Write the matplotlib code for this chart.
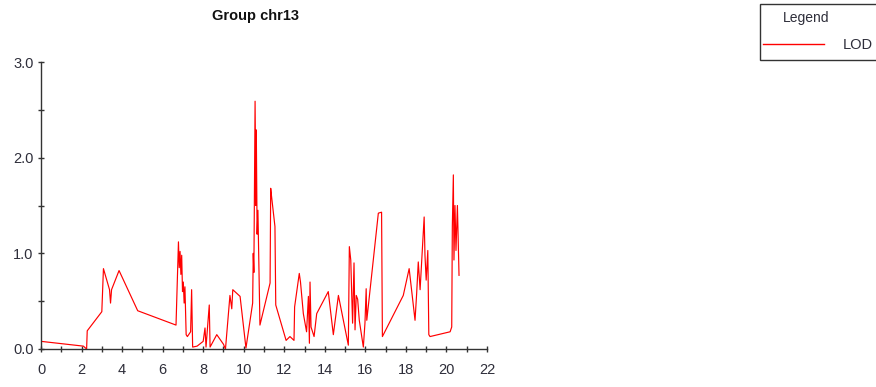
#!/usr/bin/env python
# -*- coding: utf-8 -*-
"""LOD profile for linkage group chr13"""

import matplotlib as mpl
mpl.use("Agg")
import matplotlib.pyplot as plt
from matplotlib.lines import Line2D
from matplotlib.patches import Rectangle
from matplotlib.ticker import MultipleLocator, FormatStrFormatter

# map position (cM) and LOD score along the group
pos = [0.00, 2.09, 2.25, 2.28, 3.00, 3.08, 3.38, 3.43, 3.48, 3.85,
       4.77, 6.66, 6.78, 6.82, 6.86, 6.90, 6.94, 6.98, 7.02, 7.06,
       7.10, 7.16, 7.22, 7.38, 7.43, 7.48, 7.70, 8.00, 8.09, 8.14,
       8.30, 8.34, 8.67, 9.00, 9.10, 9.32, 9.41, 9.46, 9.82, 10.11,
       10.44, 10.47, 10.50, 10.56, 10.60, 10.62, 10.66, 10.70, 10.80, 11.30,
       11.33, 11.37, 11.54, 11.58, 12.09, 12.28, 12.48, 12.51, 12.74, 12.80,
       12.94, 13.10, 13.19, 13.24, 13.27, 13.32, 13.47, 13.60, 14.17, 14.42,
       14.67, 15.16, 15.21, 15.28, 15.33, 15.37, 15.44, 15.49, 15.55, 15.62,
       15.70, 15.90, 15.98, 16.04, 16.07, 16.64, 16.80, 16.84, 17.87, 18.16,
       18.45, 18.53, 18.61, 18.70, 18.90, 18.94, 19.00, 19.08, 19.13, 19.19,
       20.18, 20.26, 20.29, 20.34, 20.37, 20.42, 20.47, 20.54, 20.62]
lod = [0.08, 0.03, 0.00, 0.19, 0.39, 0.84, 0.62, 0.48, 0.62, 0.82,
       0.40, 0.25, 1.12, 0.85, 1.02, 0.78, 0.98, 0.60, 0.70, 0.48,
       0.65, 0.15, 0.13, 0.18, 0.62, 0.02, 0.03, 0.08, 0.22, 0.02,
       0.46, 0.02, 0.15, 0.05, 0.00, 0.56, 0.42, 0.62, 0.55, 0.01,
       0.48, 1.00, 0.80, 2.59, 1.50, 2.29, 1.20, 1.45, 0.25, 0.69,
       1.68, 1.60, 1.28, 0.46, 0.09, 0.13, 0.09, 0.44, 0.79, 0.70,
       0.37, 0.18, 0.55, 0.06, 0.70, 0.23, 0.13, 0.37, 0.60, 0.15,
       0.56, 0.04, 1.07, 0.93, 0.55, 0.27, 0.90, 0.20, 0.56, 0.52,
       0.30, 0.02, 0.27, 0.63, 0.30, 1.42, 1.43, 0.13, 0.56, 0.84,
       0.30, 0.58, 0.91, 0.62, 1.38, 0.98, 0.72, 1.03, 0.15, 0.13,
       0.18, 0.23, 1.28, 1.82, 0.93, 1.50, 1.03, 1.50, 0.77]

AXIS_C = "#333333"
TEXT_C = "#2e2e3a"
LINE_C = "#ff0000"

plt.rcParams['font.family'] = ['Liberation Sans', 'DejaVu Sans']

W, H = 876, 387
fig = plt.figure(figsize=(W / 100.0, H / 100.0), dpi=100)
ax = fig.add_axes([41.0 / W, 1 - 349.0 / H, 446.0 / W, 287.0 / H])


def fx(px):
    return px / float(W)


def fy(py):
    return 1 - py / float(H)


ax.plot(pos, lod, color=LINE_C, lw=0.85, label="LOD")

ax.set_xlim(0, 22)
ax.set_ylim(0, 3)
ax.xaxis.set_major_locator(MultipleLocator(2))
ax.xaxis.set_minor_locator(MultipleLocator(1))
ax.yaxis.set_major_locator(MultipleLocator(1))
ax.yaxis.set_minor_locator(MultipleLocator(0.5))
ax.yaxis.set_major_formatter(FormatStrFormatter('%.1f'))

for side in ('top', 'right'):
    ax.spines[side].set_visible(False)
for side in ('left', 'bottom'):
    ax.spines[side].set_color(AXIS_C)
    ax.spines[side].set_linewidth(1.0)

ax.tick_params(which='both', direction='inout', color=AXIS_C, width=1.0,
               length=4.5, labelcolor=TEXT_C, labelsize=10.5)
ax.tick_params(axis='x', pad=8)
ax.tick_params(axis='y', pad=3)

fig.text(fx(255), fy(16), "Group chr13", ha='center', va='center',
         fontsize=10.5, fontweight='bold', color="#111111")

# legend box, drawn by hand in pixel positions
fig.add_artist(Rectangle((fx(760), fy(60)), fx(880) - fx(760), fy(4) - fy(60),
                         transform=fig.transFigure, facecolor='white',
                         edgecolor=AXIS_C, lw=1.0))
fig.text(fx(806), fy(18), "Legend", ha='center', va='center',
         fontsize=10, color=TEXT_C)
fig.add_artist(Line2D([fx(763), fx(824)], [fy(44), fy(44)],
                      transform=fig.transFigure, color=LINE_C, lw=1.0))
fig.text(fx(858), fy(45), ax.lines[0].get_label(), ha='center', va='center',
         fontsize=10.5, color=TEXT_C)

fig.savefig("out.png", dpi=100)
